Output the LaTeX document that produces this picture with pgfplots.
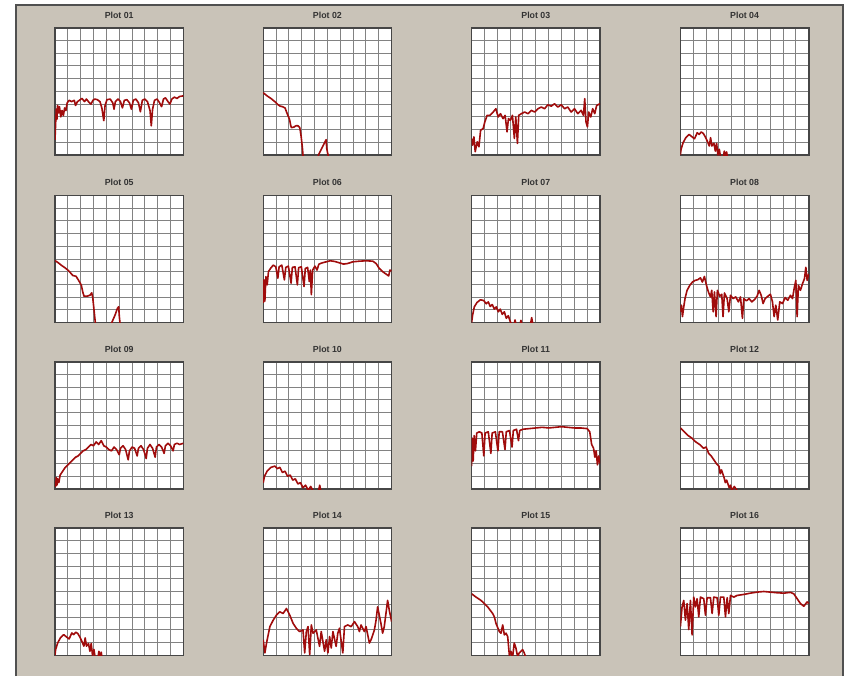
\documentclass[border=0pt]{standalone}
\usepackage{fontspec}
\setmainfont{Liberation Sans}
\usepackage{pgfplots}
\pgfplotsset{compat=1.18}
\definecolor{bgc}{RGB}{201,195,184}
\definecolor{framec}{RGB}{80,80,80}
\definecolor{gridc}{RGB}{130,130,130}
\definecolor{axc}{RGB}{70,70,70}
\definecolor{curvec}{RGB}{160,12,12}
\pgfplotsset{
  mini/.style={
    scale only axis, width=64.2pt, height=63.6pt, anchor=south west,
    xmin=0, xmax=10, ymin=0, ymax=10,
    xtick={0,1,...,10}, ytick={0,1,...,10},
    xticklabels={}, yticklabels={},
    major tick length=0pt,
    grid=major,
    major grid style={gridc, line width=0.5pt},
    axis line style={axc, line width=0.7pt},
    axis background/.style={fill=white},
    title style={at={(0.5,1)}, anchor=south, inner sep=0pt, yshift=-1.5pt,
      font=\fontsize{4.4}{5}\selectfont\bfseries, text=black!80},
  },
  curve/.style={curvec, line width=0.8pt, line join=round},
}
\begin{document}
\begin{tikzpicture}
\fill[white] (0pt,0pt) rectangle (425pt,-338pt);
\fill[bgc] (8pt,-2.5pt) rectangle (421.5pt,-338pt);
\draw[framec, line width=0.9pt] (8pt,-338pt) -- (8pt,-2.5pt) -- (421.5pt,-2.5pt) -- (421.5pt,-338pt);

% Row 1
\begin{axis}[mini, at={(27.5pt,-77.5pt)}, title={Plot 01}]
\addplot[curve] coordinates {(0,1.2)(0.05,2.5)(0.1,3.6)(0.15,2.8)(0.2,3.9)(0.3,3.3)(0.35,3.8)(0.45,3.0)(0.55,3.5)(0.65,3.1)(0.75,3.7)(0.85,3.5)(0.95,4.1)(1.1,4.3)(1.3,4.2)(1.5,4.3)(1.6,3.9)(1.75,4.2)(1.9,4.3)(2.1,4.45)(2.3,4.2)(2.45,4.4)(2.6,4.2)(2.8,4.0)(2.95,4.3)(3.1,4.4)(3.3,4.35)(3.5,4.2)(3.65,3.7)(3.8,2.7)(3.9,3.9)(4.05,4.35)(4.3,4.4)(4.5,4.1)(4.6,3.6)(4.7,4.2)(4.9,4.4)(5.1,4.2)(5.25,3.7)(5.4,4.3)(5.6,4.35)(5.8,4.1)(5.95,3.6)(6.1,4.3)(6.3,4.4)(6.5,4.1)(6.65,3.4)(6.8,4.3)(7.0,4.4)(7.2,4.2)(7.4,3.5)(7.5,2.3)(7.6,3.6)(7.75,4.3)(7.95,4.4)(8.15,4.1)(8.3,3.8)(8.45,4.4)(8.6,4.5)(8.8,4.2)(8.95,4.0)(9.1,4.4)(9.3,4.55)(9.5,4.45)(9.7,4.6)(10,4.65)};
\end{axis}
\begin{axis}[mini, at={(131.6pt,-77.5pt)}, title={Plot 02}]
\addplot[curve] coordinates {(0,4.9)(0.3,4.65)(0.6,4.45)(0.9,4.2)(1.1,4.0)(1.3,3.85)(1.5,3.8)(1.7,3.7)(1.85,3.3)(2.05,2.8)(2.15,2.3)(2.2,2.15)(2.4,2.2)(2.55,2.3)(2.7,2.3)(2.85,2.15)(2.95,1.5)(3.05,0.6)(3.1,0)(3.15,-0.4)(4.25,-0.4)(4.3,0)(4.55,0.5)(4.75,0.9)(4.9,1.2)(4.95,0.5)(5.05,0)(5.1,-0.4)};
\end{axis}
\begin{axis}[mini, at={(235.8pt,-77.5pt)}, title={Plot 03}]
\addplot[curve] coordinates {(0,1.3)(0.08,0.78)(0.18,1.43)(0.28,0.26)(0.44,1.04)(0.57,0.65)(0.70,1.95)(0.90,2.08)(1.03,2.6)(1.21,3.12)(1.42,3.12)(1.68,3.38)(1.89,3.64)(2.07,2.99)(2.25,3.25)(2.45,2.86)(2.61,3.12)(2.76,1.82)(2.87,2.86)(3.02,2.73)(3.18,3.12)(3.33,1.30)(3.44,2.99)(3.57,0.91)(3.67,3.12)(3.88,3.25)(4.13,3.38)(4.39,3.25)(4.65,3.51)(4.91,3.38)(5.17,3.64)(5.43,3.77)(5.68,3.64)(5.94,3.95)(6.20,3.84)(6.46,4.03)(6.72,3.77)(6.98,3.95)(7.24,3.64)(7.49,3.77)(7.75,3.38)(8.01,3.64)(8.27,3.25)(8.53,3.51)(8.71,3.12)(8.81,4.42)(8.91,2.60)(9.02,2.21)(9.12,3.38)(9.28,2.99)(9.43,3.64)(9.59,3.25)(9.74,3.90)(10,4.03)};
\end{axis}
\begin{axis}[mini, at={(340.2pt,-77.5pt)}, title={Plot 04}]
\addplot[curve] coordinates {(0,0)(0.05,0.45)(0.21,0.97)(0.42,1.36)(0.68,1.62)(0.89,1.44)(1.10,1.28)(1.31,1.75)(1.46,1.62)(1.62,1.81)(1.78,1.70)(1.93,1.44)(2.09,1.10)(2.25,0.71)(2.35,1.36)(2.45,0.71)(2.61,0.92)(2.72,0.31)(2.82,0.92)(2.92,0)(3.03,0.45)(3.13,-0.2)(3.34,-0.2)(3.42,0.31)(3.50,-0.1)(3.60,0.24)(3.68,-0.3)};
\end{axis}

% Row 2
\begin{axis}[mini, at={(27.5pt,-161.3pt)}, title={Plot 05}]
\addplot[curve] coordinates {(0,4.88)(0.26,4.70)(0.52,4.49)(0.78,4.31)(1.04,4.10)(1.22,3.90)(1.38,3.71)(1.64,3.64)(1.84,3.32)(2.05,2.94)(2.16,2.42)(2.26,2.08)(2.52,2.08)(2.73,2.16)(2.86,2.34)(2.94,1.97)(3.04,0.99)(3.14,0)(3.2,-0.3)(4.29,-0.3)(4.42,0)(4.68,0.6)(4.86,1.12)(4.96,1.25)(5.01,0.47)(5.06,0)(5.1,-0.3)};
\end{axis}
\begin{axis}[mini, at={(131.6pt,-161.3pt)}, title={Plot 06}]
\addplot[curve] coordinates {(0,1.55)(0.05,3.36)(0.13,1.68)(0.21,3.62)(0.31,2.97)(0.41,4.01)(0.57,4.26)(0.78,4.52)(0.98,4.39)(1.14,3.49)(1.24,4.39)(1.45,4.52)(1.65,3.36)(1.76,4.34)(1.96,4.44)(2.17,3.10)(2.27,4.34)(2.48,4.39)(2.66,2.97)(2.76,4.32)(2.97,4.39)(3.18,2.84)(3.28,4.26)(3.46,4.34)(3.59,3.23)(3.67,4.13)(3.75,2.20)(3.85,4.13)(4.03,4.44)(4.19,4.13)(4.34,4.60)(4.60,4.70)(4.91,4.78)(5.22,4.86)(5.56,4.81)(5.94,4.70)(6.25,4.60)(6.59,4.65)(6.98,4.78)(7.49,4.83)(8.01,4.86)(8.53,4.83)(8.79,4.65)(9.04,4.26)(9.30,4.01)(9.56,3.82)(9.77,3.67)(9.87,4.13)(10,4.06)};
\end{axis}
\begin{axis}[mini, at={(235.8pt,-161.3pt)}, title={Plot 07}]
\addplot[curve] coordinates {(0,0)(0.08,0.60)(0.21,1.24)(0.42,1.58)(0.68,1.79)(0.94,1.74)(1.14,1.48)(1.30,1.63)(1.45,1.27)(1.61,1.42)(1.77,1.06)(1.92,1.24)(2.08,0.85)(2.23,1.06)(2.39,0.65)(2.55,0.85)(2.70,0.34)(2.86,0.54)(3.01,0.08)(3.17,-0.2)(3.30,-0.2)(3.38,0.21)(3.48,-0.2)(3.76,-0.2)(3.84,0.18)(3.95,-0.2)(4.57,-0.2)(4.68,0.39)(4.78,-0.2)};
\end{axis}
\begin{axis}[mini, at={(340.2pt,-161.3pt)}, title={Plot 08}]
\addplot[curve] coordinates {(0,0.85)(0.08,1.37)(0.16,0.47)(0.26,1.24)(0.36,1.89)(0.52,2.54)(0.73,2.93)(0.94,3.19)(1.14,3.32)(1.35,3.37)(1.56,3.52)(1.71,3.19)(1.87,3.63)(2.03,2.93)(2.18,2.41)(2.34,2.02)(2.44,2.54)(2.55,0.85)(2.65,2.41)(2.78,0.47)(2.88,2.54)(3.06,2.07)(3.22,2.23)(3.32,0.47)(3.43,2.33)(3.64,1.89)(3.77,0.85)(3.90,2.15)(4.10,1.89)(4.31,2.02)(4.52,1.63)(4.68,2.02)(4.83,0.34)(4.94,1.89)(5.14,1.71)(5.35,1.89)(5.56,1.63)(5.77,1.81)(5.97,2.07)(6.13,2.54)(6.29,2.15)(6.44,1.50)(6.60,1.89)(6.81,2.07)(7.01,2.23)(7.17,1.63)(7.30,0.47)(7.43,1.37)(7.58,0.21)(7.74,1.63)(7.95,1.50)(8.16,1.97)(8.36,1.76)(8.57,2.15)(8.73,1.89)(8.88,2.80)(8.99,3.32)(9.09,0.47)(9.19,2.93)(9.35,2.54)(9.51,3.06)(9.66,3.45)(9.77,4.35)(9.87,3.32)(10,3.83)};
\end{axis}

% Row 3
\begin{axis}[mini, at={(27.5pt,-244.5pt)}, title={Plot 09}]
\addplot[curve] coordinates {(0,0.5)(0.05,0.2)(0.1,0.9)(0.15,0.3)(0.2,0.8)(0.3,0.5)(0.4,1.1)(0.6,1.4)(0.8,1.7)(1.0,1.9)(1.2,2.1)(1.4,2.3)(1.6,2.5)(1.8,2.6)(2.0,2.8)(2.2,3.0)(2.4,3.1)(2.6,3.3)(2.8,3.5)(3.0,3.4)(3.2,3.7)(3.4,3.5)(3.6,3.8)(3.8,3.4)(4.0,3.3)(4.2,3.1)(4.4,3.0)(4.6,3.3)(4.8,3.1)(5.0,2.7)(5.1,3.2)(5.3,3.4)(5.5,3.1)(5.7,2.3)(5.8,3.0)(6.0,3.3)(6.2,3.2)(6.4,2.6)(6.5,3.2)(6.7,3.4)(6.9,3.1)(7.1,2.4)(7.2,3.2)(7.4,3.5)(7.6,3.2)(7.8,2.5)(7.9,3.3)(8.1,3.5)(8.3,3.3)(8.5,2.8)(8.6,3.4)(8.8,3.6)(9.0,3.4)(9.2,3.0)(9.3,3.5)(9.5,3.6)(9.7,3.5)(10,3.6)};
\end{axis}
\begin{axis}[mini, at={(131.6pt,-244.5pt)}, title={Plot 10}]
\addplot[curve] coordinates {(0,0.5)(0.1,1.0)(0.3,1.4)(0.6,1.7)(0.9,1.8)(1.1,1.6)(1.3,1.7)(1.5,1.3)(1.7,1.4)(1.9,1.0)(2.1,1.1)(2.3,0.7)(2.5,0.8)(2.7,0.4)(2.9,0.5)(3.1,0.1)(3.3,0.3)(3.5,-0.1)(3.7,0.2)(3.9,-0.2)(4.3,-0.2)(4.4,0.3)(4.5,-0.2)};
\end{axis}
\begin{axis}[mini, at={(235.8pt,-244.5pt)}, title={Plot 11}]
\addplot[curve] coordinates {(0,1.8)(0.05,4.0)(0.12,2.2)(0.2,4.2)(0.3,3.0)(0.4,4.4)(0.6,4.5)(0.8,4.4)(0.95,2.6)(1.05,4.4)(1.3,4.5)(1.5,2.8)(1.6,4.4)(1.85,4.5)(2.05,3.0)(2.15,4.5)(2.4,4.5)(2.6,3.1)(2.7,4.5)(2.95,4.6)(3.15,3.3)(3.25,4.6)(3.5,4.7)(3.65,3.8)(3.75,4.6)(4.0,4.7)(4.5,4.75)(5.0,4.8)(5.5,4.85)(6.0,4.8)(6.5,4.85)(7.0,4.9)(7.5,4.85)(8.0,4.8)(8.5,4.8)(9.0,4.75)(9.2,4.5)(9.35,3.5)(9.5,3.2)(9.6,2.5)(9.7,3.0)(9.8,1.9)(9.9,2.6)(10,2.0)};
\end{axis}
\begin{axis}[mini, at={(340.2pt,-244.5pt)}, title={Plot 12}]
\addplot[curve] coordinates {(0,4.8)(0.3,4.5)(0.6,4.2)(0.9,4.0)(1.2,3.7)(1.5,3.5)(1.8,3.2)(2.0,3.3)(2.2,2.8)(2.4,2.6)(2.6,2.3)(2.8,2.0)(3.0,1.8)(3.1,1.2)(3.2,1.5)(3.4,0.9)(3.5,0.5)(3.6,0.7)(3.8,0.1)(3.9,0.3)(4.0,-0.1)(4.2,0.2)(4.4,-0.1)};
\end{axis}

% Row 4
\begin{axis}[mini, at={(27.5pt,-327.6pt)}, title={Plot 13}]
\addplot[curve] coordinates {(0,0)(0.05,0.45)(0.21,0.97)(0.42,1.36)(0.68,1.62)(0.89,1.44)(1.10,1.28)(1.31,1.75)(1.46,1.62)(1.62,1.81)(1.78,1.70)(1.93,1.44)(2.09,1.10)(2.25,0.71)(2.35,1.36)(2.45,0.71)(2.61,0.92)(2.72,0.31)(2.82,0.92)(2.92,0)(3.03,0.45)(3.13,-0.2)(3.34,-0.2)(3.42,0.31)(3.50,-0.1)(3.60,0.24)(3.68,-0.3)};
\end{axis}
\begin{axis}[mini, at={(131.6pt,-327.6pt)}, title={Plot 14}]
\addplot[curve] coordinates {(0,1.21)(0.13,0.18)(0.26,0.96)(0.52,2.25)(0.78,2.76)(1.03,3.15)(1.29,3.41)(1.55,3.28)(1.81,3.67)(2.07,3.15)(2.33,2.50)(2.58,2.12)(2.84,1.86)(3.10,1.99)(3.23,0.18)(3.36,1.86)(3.49,2.25)(3.62,0.05)(3.75,2.38)(3.88,1.73)(4.13,1.99)(4.39,0.70)(4.52,1.86)(4.78,0.31)(4.91,1.21)(5.04,0.18)(5.17,1.47)(5.30,0.57)(5.43,1.86)(5.68,0.70)(5.81,1.73)(5.94,2.12)(6.20,0.18)(6.33,2.25)(6.59,2.38)(6.85,2.25)(7.11,2.64)(7.36,2.25)(7.49,1.86)(7.62,2.38)(7.88,1.86)(8.01,2.25)(8.27,0.96)(8.40,1.21)(8.66,1.99)(8.79,2.76)(8.91,3.80)(9.04,3.15)(9.17,2.50)(9.30,1.73)(9.43,2.25)(9.56,3.28)(9.69,4.31)(9.82,3.54)(10,2.64)};
\end{axis}
\begin{axis}[mini, at={(235.8pt,-327.6pt)}, title={Plot 15}]
\addplot[curve] coordinates {(0,4.83)(0.34,4.57)(0.73,4.31)(0.99,4.06)(1.25,3.80)(1.64,3.28)(1.77,3.02)(1.90,2.50)(2.16,1.86)(2.29,1.73)(2.42,2.38)(2.55,1.60)(2.68,1.73)(2.81,1.47)(2.94,0)(3.06,0.31)(3.19,-0.2)(3.32,0.96)(3.45,0.57)(3.58,-0.1)(3.71,0.18)(3.97,0.44)(4.10,0.18)(4.23,-0.2)(4.5,-0.2)};
\end{axis}
\begin{axis}[mini, at={(340.2pt,-327.6pt)}, title={Plot 16}]
\addplot[curve] coordinates {(0,2.25)(0.13,3.80)(0.26,4.31)(0.39,2.76)(0.52,4.06)(0.65,2.02)(0.78,4.31)(0.91,1.60)(1.04,4.57)(1.17,3.80)(1.30,4.44)(1.43,3.02)(1.56,4.57)(1.82,4.44)(1.95,3.15)(2.08,4.52)(2.34,4.52)(2.47,3.28)(2.60,4.57)(2.86,4.52)(2.99,3.15)(3.12,4.57)(3.38,4.57)(3.51,3.02)(3.64,4.52)(3.77,3.28)(3.90,4.70)(4.16,4.57)(4.42,4.70)(4.94,4.78)(5.45,4.88)(5.97,4.96)(6.49,5.01)(7.01,4.96)(7.53,4.91)(8.05,4.88)(8.57,4.94)(8.83,4.83)(9.09,4.44)(9.35,4.06)(9.61,3.85)(9.87,4.19)(10,4.06)};
\end{axis}

\pgfresetboundingbox
\path[use as bounding box] (0pt,0pt) rectangle (425pt,-338pt);
\end{tikzpicture}
\end{document}
